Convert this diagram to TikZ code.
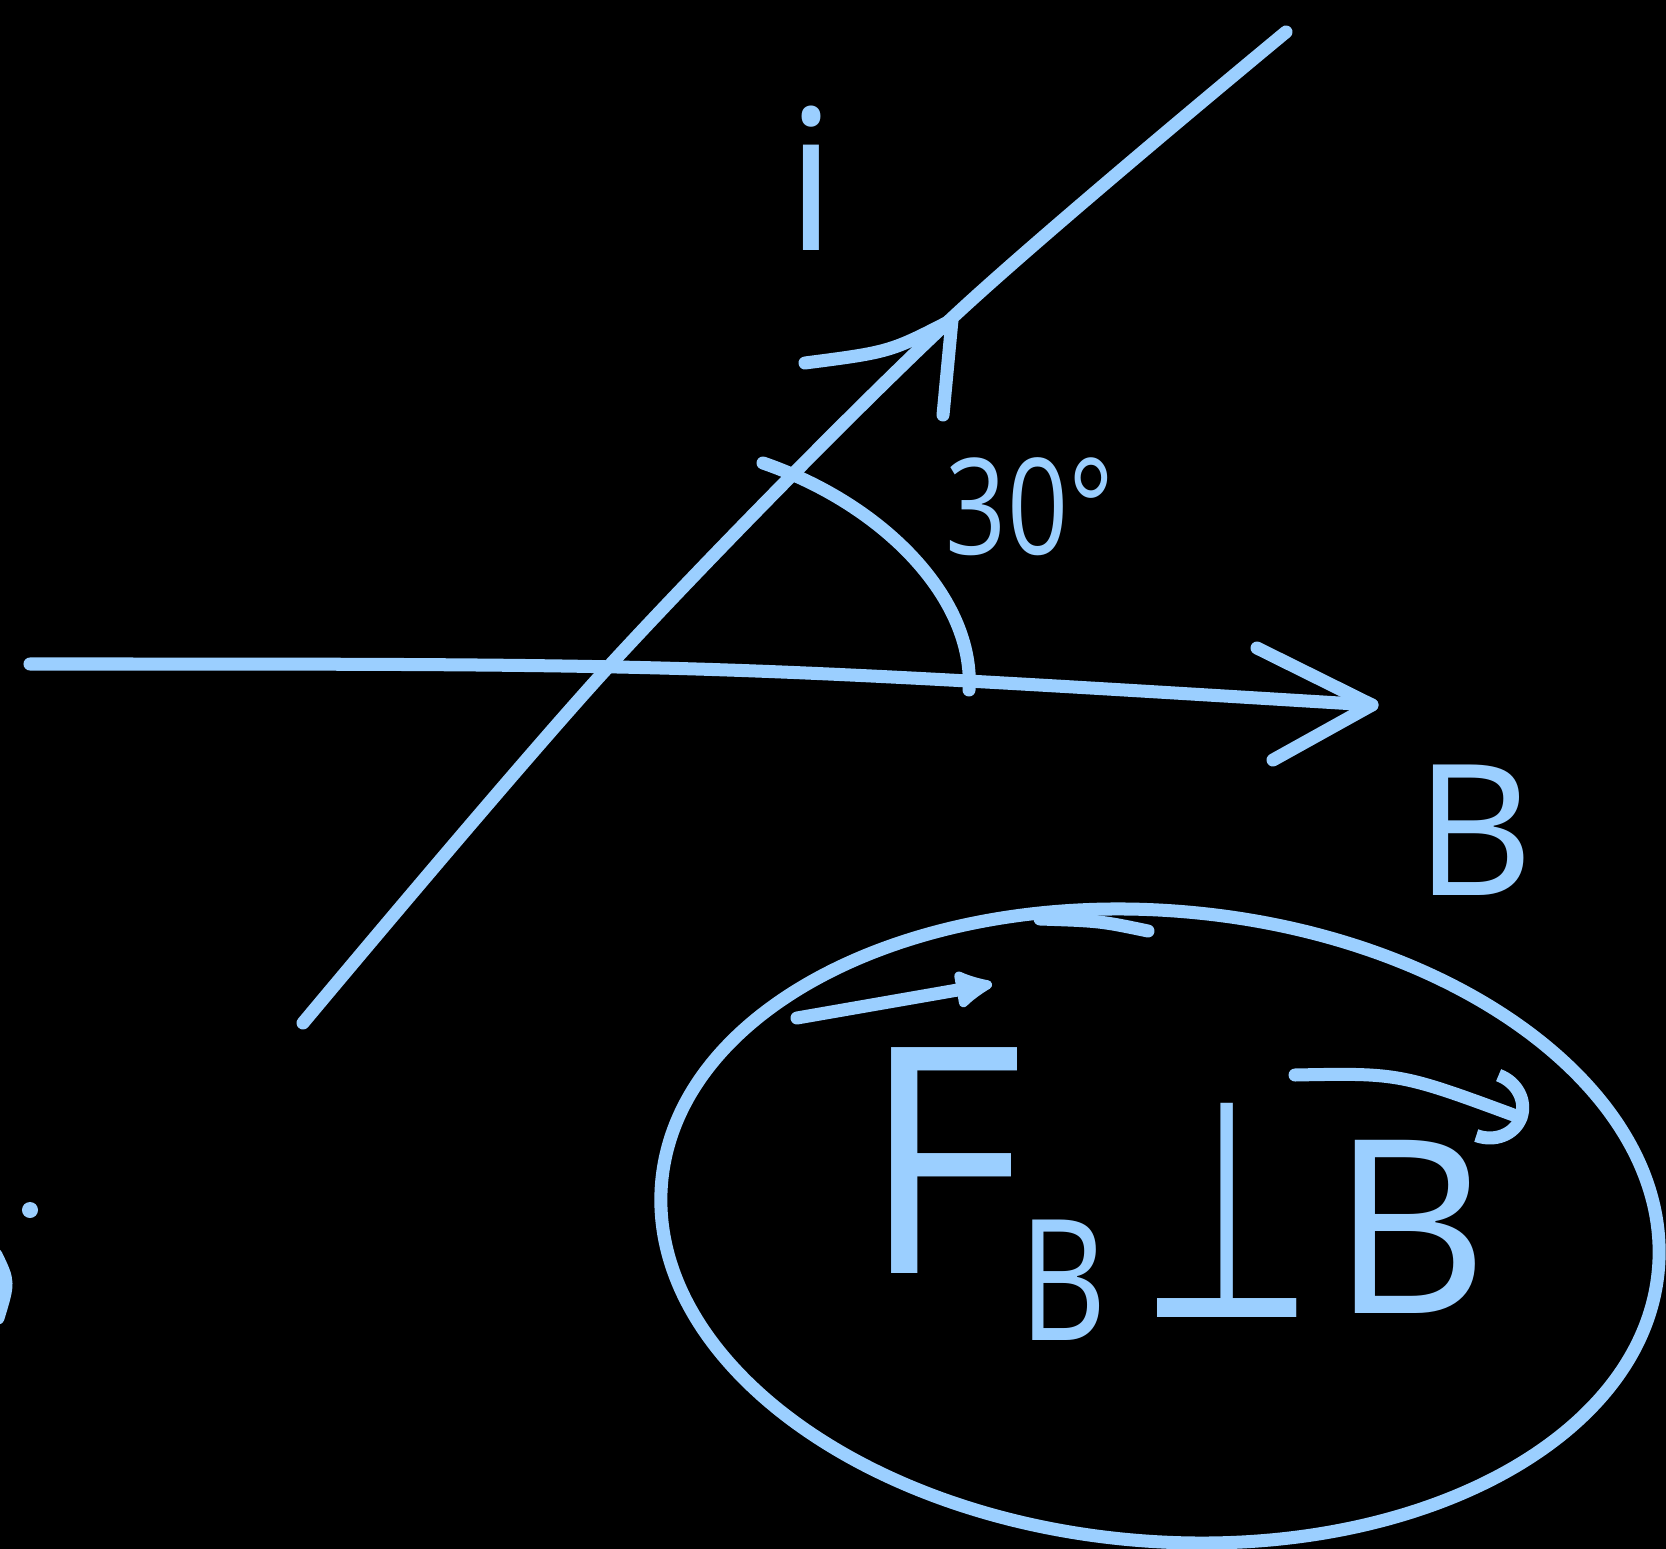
\documentclass[tikz,border=0pt]{standalone}
\usepackage{fontspec}
\setmainfont{Open Sans}
\newfontfamily\perpfont{DejaVu Sans}
\usepackage{tikz}
\usetikzlibrary{arrows.meta, shapes.geometric}
\definecolor{chalk}{RGB}{155,207,255}

\begin{document}
\begin{tikzpicture}[
  x=0.01cm, y=-0.01cm,
  stroke/.style={draw=chalk, line width=3.7pt, line cap=round, line join=round},
  label/.style={text=chalk, inner sep=0pt},
]
% Board
\fill[black] (0,0) rectangle (1666,1549);
\useasboundingbox (0,0) rectangle (1666,1549);

% Field B
\coordinate (bstart) at (30,664);
\coordinate (btip) at (1372,705);
\coordinate (barmup) at (1257,648);
\coordinate (barmdown) at (1273,760);
\draw[stroke] (bstart) .. controls (700,664) .. (btip);
\draw[stroke] (barmup) -- (btip) -- (barmdown);
\node[label, font=\fontsize{52}{60}\selectfont] (blabel) at (1475,830) {B};

% Wire with current i
\coordinate (wbot) at (303,1023);
\coordinate (wtop) at (1286,32);
\coordinate (itip) at (952,320);
\coordinate (iarmleft) at (805,363);
\coordinate (iarmright) at (943,415);
\draw[stroke] plot[smooth] coordinates {(wbot) (611,664) (951,319) (wtop)};
\draw[stroke] (iarmleft) .. controls (890,352) .. (itip) -- (iarmright);
\node[label, font=\fontsize{56}{64}\selectfont] (ilabel) at (811,178) {i};

% Angle
\coordinate (arcstart) at (763,463);
\coordinate (arcend) at (969,690);
\draw[stroke] (arcstart) .. controls (885,505) and (975,600) .. (arcend);
\node[label, font=\fontsize{38}{44}\selectfont] (angle) at (1030,507) {\scalebox{0.8}[1]{30°}};

% Stray marks at the left edge
\fill[chalk] (30,1210) circle[radius=0.08cm];
\draw[stroke] (-4,1255) .. controls (9,1282) .. (-2,1318);

% Result: F_B perpendicular to B
\node[ellipse, draw=chalk, line width=3.7pt, minimum width=10cm, minimum height=6.3cm, rotate=-5] (ring) at (1160,1226) {};
\draw[stroke] (1040,919) .. controls (1100,921) .. (1148,931);
\node[label, anchor=base west, font=\fontsize{90}{100}\selectfont] (force) at (860,1273)
  {F\kern-0.05cm\raisebox{-0.67cm}{\fontsize{48}{56}\selectfont\scalebox{0.8}[1]{B}}};
\node[label, font=\perpfont\fontsize{87}{96}\selectfont] (perp) at (1227,1210) {\scalebox{0.65}[1]{⊥}};
\node[label, font=\fontsize{69}{78}\selectfont] (field) at (1410,1227) {B};

\coordinate (fvecstart) at (797,1018);
\coordinate (fvecend) at (992,984);
\coordinate (bvecstart) at (1295,1075);
\coordinate (bvecend) at (1527,1120);
\draw[stroke, -{Latex[round, length=13pt, width=13pt]}] (fvecstart) -- (fvecend);
\draw[stroke, -{Arc Barb[length=12pt, width=22pt, line width=3.7pt]}] (bvecstart) .. controls (1400,1073) .. (bvecend);
\end{tikzpicture}
\end{document}
